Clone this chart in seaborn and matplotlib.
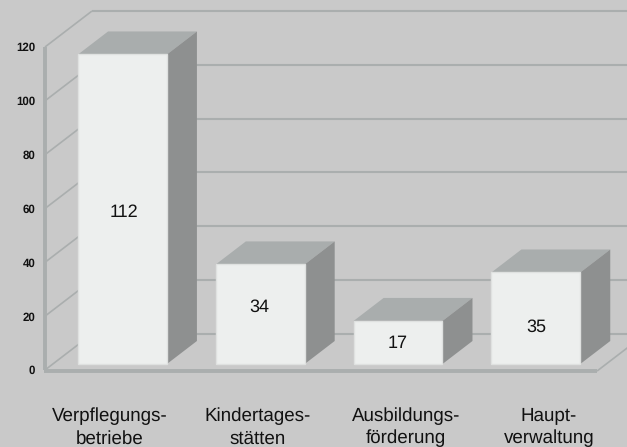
import matplotlib
matplotlib.use("Agg")
import matplotlib.pyplot as plt
import seaborn as sns
import pandas as pd
from matplotlib.patches import Polygon

categories = ["Verpflegungs-\nbetriebe", "Kindertages-\nstätten", "Ausbildungs-\nförderung", "Haupt-\nverwaltung"]
bar_heights = [115, 37, 16, 34]          # drawn heights as read against the axis
bar_labels = ["112", "34", "17", "35"]   # printed values
y_ticks = [0, 20, 40, 60, 80, 100, 120]

BG, WALL, FRONT, TOP, SIDE = "#c9c9c9", "#aaaeae", "#edefee", "#a9adad", "#8e9090"
W, H = 627, 447
sns.set_theme(style="white")
plt.rcParams["font.family"] = ["Liberation Sans", "DejaVu Sans"]
plt.rcParams["text.hinting"] = "no_hinting"

fig = plt.figure(figsize=(W / 100, H / 100), dpi=100, facecolor=BG)
ax = fig.add_axes([45 / W, 1 - 370 / H, (597 - 45) / W, (370 - 47) / H], facecolor="none")

df = pd.DataFrame({"cat": categories, "h": bar_heights})
sns.barplot(data=df, x="cat", y="h", color=FRONT, width=0.645, saturation=1, ax=ax, zorder=5)
ax.set_xlim(-0.5624, 3.444)
ax.set_ylim(0, 120)

px_x = (ax.get_xlim()[1] - ax.get_xlim()[0]) / (597 - 45)
px_y = 120 / (370 - 47)

# pseudo-3D depths, in pixels turned into data units
wall_dx, wall_dy = 47 * px_x, 36 * px_y
bar_dx, bar_dy = 30 * px_x, 23 * px_y
lift = 6 * px_y
x0, x1 = ax.get_xlim()
x_right = x0 + (W + 5 - 45) * px_x

ln = dict(color=WALL, clip_on=False, solid_capstyle="butt")
# back wall grid, side-wall slants
for t in y_ticks:
    ax.plot([x0 + wall_dx, x_right], [t + wall_dy] * 2, lw=1.5, zorder=1, **ln)
    ax.plot([x0, x0 + wall_dx], [t, t + wall_dy], lw=1.2, zorder=1, **ln)
ax.plot([x0, x0], [0, 120], lw=2.8, zorder=2, **ln)
ax.plot([x0 - 1 * px_x, x1], [-0.4, -0.4], lw=2.8, zorder=2, **ln)
ax.plot([x1, x1 + wall_dx], [-0.4, -0.4 + wall_dy], lw=1.2, zorder=2, **ln)

# bar faces derived from the seaborn bars
nudges_y = [-3, 7, -1, -9]
nudges_x = [1.5, -1, 0, 1]
for patch, lab, ny, nx in zip(ax.patches, bar_labels, nudges_y, nudges_x):
    patch.set_y(lift)
    patch.set_clip_on(False)
    patch.set_edgecolor("#dfe1e0")
    patch.set_linewidth(1.0)
    xa, w, h = patch.get_x(), patch.get_width(), patch.get_height()
    xb, yb, yt = xa + w, lift, lift + h
    ax.add_patch(Polygon([(xa, yt), (xb, yt), (xb + bar_dx, yt + bar_dy), (xa + bar_dx, yt + bar_dy)],
                         fc=TOP, ec="none", zorder=4, clip_on=False))
    ax.add_patch(Polygon([(xb, yb), (xb + bar_dx, yb + bar_dy), (xb + bar_dx, yt + bar_dy), (xb, yt)],
                         fc=SIDE, ec="none", zorder=4, clip_on=False))
    ax.text(xa + w / 2 + nx * px_x, lift + h / 2 + ny * px_y, lab, ha="center", va="center",
            fontsize=13, color="#111111", zorder=6)

sns.despine(ax=ax, left=True, bottom=True)
ax.set_xlabel("")
ax.set_ylabel("")
ax.set_yticks(y_ticks)
ax.set_yticklabels([str(t) for t in y_ticks], fontsize=8.3, fontweight="bold", color="#111111")
ax.tick_params(axis="y", length=0, pad=7)
# category labels sit a little wider apart than the bars
label_shift = [-13, -3, 8, 13]
ax.set_xticks([i + s * px_x for i, s in enumerate(label_shift)])
ax.set_xticklabels(categories)
ax.tick_params(axis="x", length=0, pad=27, labelsize=13.5, labelcolor="#111111")
for t in ax.get_xticklabels():
    t.set_linespacing(1.33)

fig.savefig("out.png", dpi=100, facecolor=BG)
